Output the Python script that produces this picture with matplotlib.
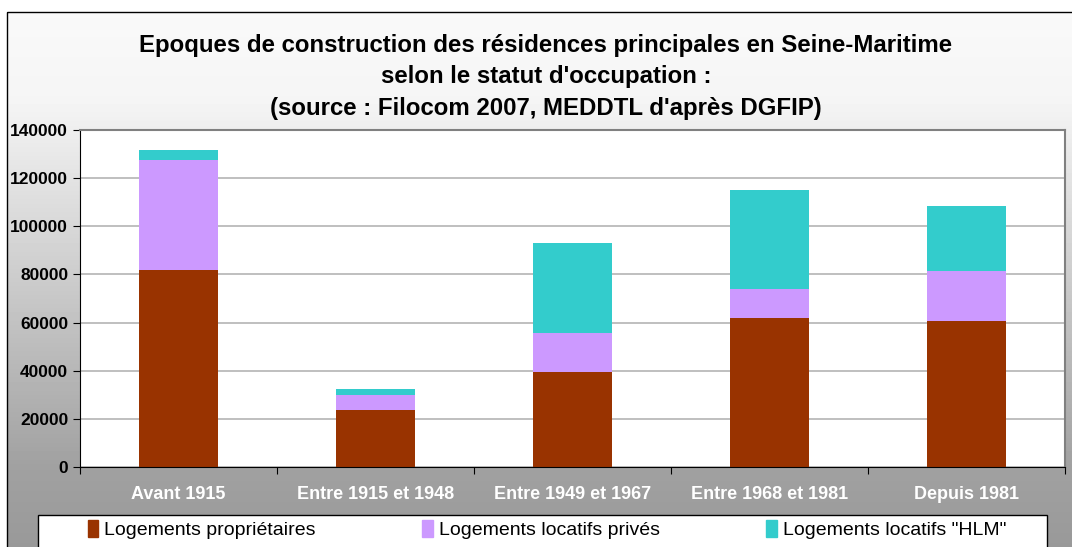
import numpy as np
import matplotlib.pyplot as plt
from matplotlib.patches import Rectangle, Patch

# -------- DATA --------
categories = ["Avant 1915", "Entre 1915 et 1948", "Entre 1949 et 1967",
              "Entre 1968 et 1981", "Depuis 1981"]
proprietaires = [82000, 23800, 39500, 61800, 60600]
locatifs_prives = [45400, 6100, 16200, 12200, 20800]
locatifs_hlm = [4100, 2700, 37200, 41200, 27000]

series_labels = ["Logements propriétaires", "Logements locatifs privés",
                 'Logements locatifs "HLM"']
colors = ["#993300", "#cc99ff", "#33cccc"]
yticks = [0, 20000, 40000, 60000, 80000, 100000, 120000, 140000]

title = ("Epoques de construction des résidences principales en Seine-Maritime\n"
         "selon le statut d'occupation :\n"
         "(source : Filocom 2007, MEDDTL d'après DGFIP)")

# -------- FIGURE --------
plt.rcParams['font.family'] = ['Liberation Sans', 'DejaVu Sans']
W, H = 1072, 547
fig = plt.figure(figsize=(W / 100, H / 100), dpi=100)

# background: grey gradient in a frame, pixel coordinates
bg = fig.add_axes([0, 0, 1, 1], zorder=-10)
ys = np.arange(H)
shade = np.interp(ys, [0, 100, 467, 547], [0.98, 0.96, 0.63, 0.60])
bg.imshow(np.repeat(shade[:, None], 2, axis=1), cmap='gray', vmin=0, vmax=1,
          aspect='auto', extent=[0, W, H, 0])
bg.add_patch(Rectangle((0, 0), W, 12, fc='white', ec='none'))
bg.add_patch(Rectangle((0, 0), 7, H, fc='white', ec='none'))
bg.add_patch(Rectangle((7, 12), W + 20, H + 20, fc='none', ec='black', lw=1))
# legend box (cut by the bottom edge like the original)
bg.add_patch(Rectangle((38, 515), 1009, 60, fc='white', ec='black', lw=1))
bg.set_xlim(0, W)
bg.set_ylim(H, 0)
bg.axis('off')

fig.text(546 / W, 1 - 77 / H, title, ha='center', va='center',
         fontsize=17.3, fontweight='bold', linespacing=1.45)

# -------- BARS --------
ax = fig.add_axes([80 / W, 1 - 467 / H, (1065 - 80) / W, (467 - 130) / H])
x = np.arange(len(categories))
bottom2 = np.array(proprietaires)
bottom3 = bottom2 + np.array(locatifs_prives)
ax.bar(x, proprietaires, width=0.4, color=colors[0], label=series_labels[0])
ax.bar(x, locatifs_prives, width=0.4, bottom=bottom2, color=colors[1],
       label=series_labels[1])
ax.bar(x, locatifs_hlm, width=0.4, bottom=bottom3, color=colors[2],
       label=series_labels[2])

ax.set_xlim(-0.5, len(categories) - 0.5)
ax.set_ylim(0, 140000)
ax.set_yticks(yticks)
ax.set_yticklabels([str(v) for v in yticks], fontsize=12.5, fontweight='bold')
ax.yaxis.grid(True, color='#b4b4b4', lw=1.2)
ax.set_axisbelow(True)

ax.set_xticks(np.arange(len(categories) + 1) - 0.5)
ax.set_xticklabels([])
ax.set_xticks(x, minor=True)
ax.set_xticklabels(categories, minor=True, fontsize=13, fontweight='bold',
                   color='white')
ax.tick_params(axis='x', which='minor', length=0, pad=14)
ax.tick_params(axis='x', which='major', length=5, direction='out')
ax.tick_params(axis='y', length=5, direction='out')

ax.spines['left'].set_color('black')
ax.spines['bottom'].set_color('black')
ax.spines['top'].set_color('#808080')
ax.spines['right'].set_color('#808080')
ax.spines['top'].set_linewidth(1.5)
ax.spines['right'].set_linewidth(1.5)

# -------- LEGEND --------
handles = [Patch(color=c) for c in colors]
fig.legend(handles, series_labels, loc='upper left', ncol=3, mode='expand',
           bbox_to_anchor=(80 / W, 1 - 512 / H, 934 / W, 0),
           frameon=False, fontsize=14, handlelength=0.55, handleheight=0.95,
           handletextpad=0.3, borderaxespad=0)

fig.savefig("out.png", dpi=100)
